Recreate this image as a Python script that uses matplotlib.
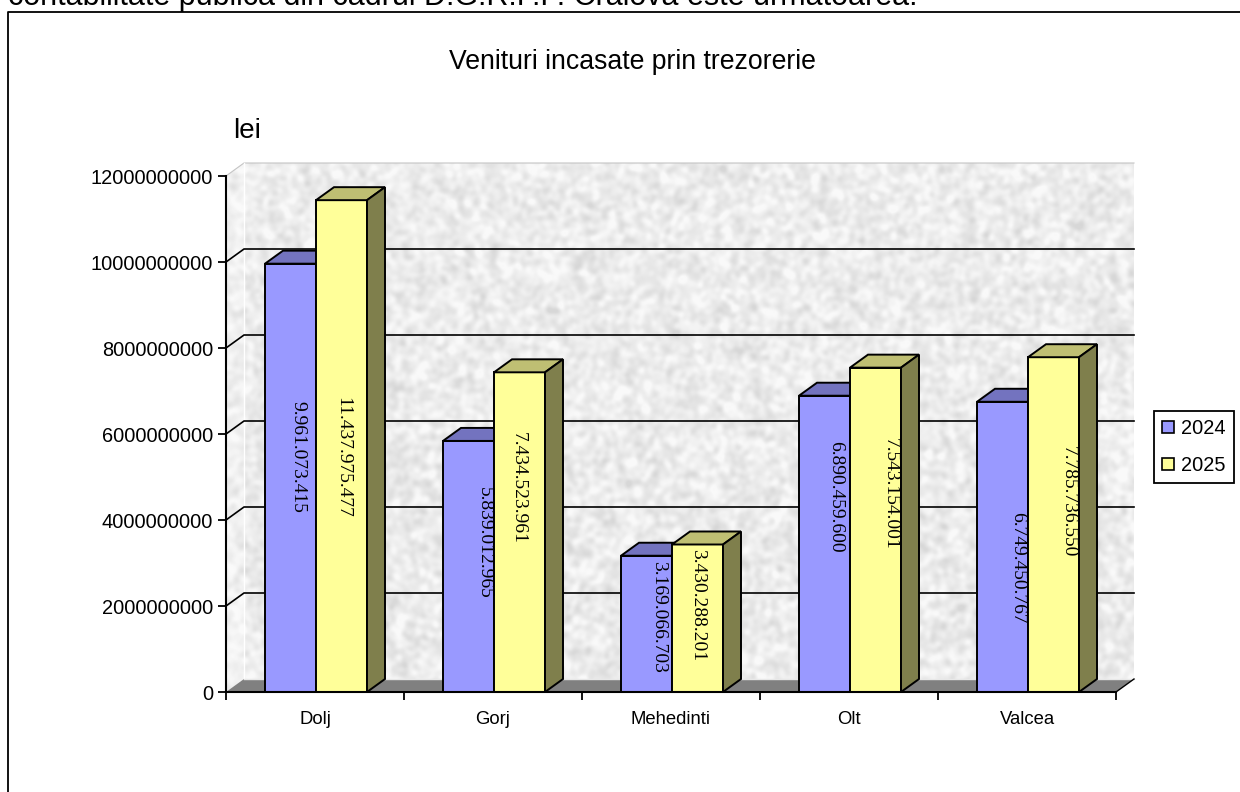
#!/usr/bin/env python3
"""Venituri incasate prin trezorerie - 3D style column chart."""

import matplotlib

matplotlib.use("Agg")
import matplotlib.pyplot as plt
import numpy as np
from matplotlib.lines import Line2D
from matplotlib.patches import Patch, Polygon

plt.rcParams["font.family"] = ["Liberation Sans", "DejaVu Sans"]

categories = ["Dolj", "Gorj", "Mehedinti", "Olt", "Valcea"]
values_2024 = [9961073415, 5839012965, 3169066703, 6890459600, 6749450767]
values_2025 = [11437975477, 7434523961, 3430288201, 7543154001, 7785736550]
labels_2024 = ["9.961.073.415", "5.839.012.965", "3.169.066.703", "6.890.459.600", "6.749.450.767"]
labels_2025 = ["11.437.975.477", "7.434.523.961", "3.430.288.201", "7.543.154.001", "7.785.736.550"]
y_ticks = [0, 2000000000, 4000000000, 6000000000, 8000000000, 10000000000, 12000000000]

# label offsets from the bar centre in pixels, they sit oddly in the original
shift_2024 = [(7.5, 21), (15.5, 23.5), (12.5, 7), (11.5, 47), (15.5, -21)]
shift_2025 = [(1.5, -11), (-1.5, 44), (0.5, 13), (14.5, 36), (14.5, 22.5)]

W, H = 1240, 792
Y_MAX = 12000000000
BAR_W = 51 / 178
DX = 18 / 178
DY = 13 / 516 * Y_MAX
EDGE = 1.4


def wall_texture(ny, nx):
    # blotchy paper look: a hash pattern blurred in fourier space, no data in here
    yy, xx = np.mgrid[0:ny, 0:nx]
    grain = np.sin(xx * 12.9898 + yy * 78.233) * 43758.5453
    grain = grain - np.floor(grain)
    fy = np.fft.fftfreq(ny)[:, None]
    fx = np.fft.rfftfreq(nx)[None, :]
    spec = np.fft.rfft2(grain - grain.mean())
    tex = np.fft.irfft2(spec * np.exp(-2 * (np.pi * 2.6) ** 2 * (fx ** 2 + fy ** 2)), s=(ny, nx))
    tex = tex / tex.std()
    return np.clip(0.925 + 0.026 * tex, 0.84, 0.975)


def draw_bar(ax, left, value, front, top, side):
    right = left + BAR_W
    ax.bar(left, value, BAR_W, align="edge", color=front, edgecolor="black", linewidth=EDGE, zorder=5, clip_on=False)
    ax.add_patch(Polygon(
        [(left, value), (right, value), (right + DX, value + DY), (left + DX, value + DY)],
        facecolor=top, edgecolor="black", linewidth=EDGE, zorder=5, clip_on=False,
    ))
    ax.add_patch(Polygon(
        [(right, 0), (right + DX, DY), (right + DX, value + DY), (right, value)],
        facecolor=side, edgecolor="black", linewidth=EDGE, zorder=5, clip_on=False,
    ))


def main():
    fig = plt.figure(figsize=(W / 100, H / 100), dpi=100, facecolor="white")
    ax = fig.add_axes([226 / W, 1 - 692 / H, 890 / W, 516 / H])
    ax.patch.set_visible(False)

    n = len(categories)
    x_right = n + DX

    # back and left wall
    outline = Polygon(
        [(0, 0), (DX, DY), (x_right, DY), (x_right, Y_MAX + DY), (DX, Y_MAX + DY), (0, Y_MAX)],
        transform=ax.transData, facecolor="none", edgecolor="none",
    )
    ax.add_patch(outline)
    im = ax.imshow(
        wall_texture(530, 910), cmap="gray", vmin=0, vmax=1, aspect="auto", interpolation="bilinear",
        extent=(0, x_right, 0, Y_MAX + DY), zorder=1,
    )
    im.set_clip_box(fig.bbox)
    im.set_clip_path(outline)
    ax.add_patch(Polygon(
        [(0, 0), (DX, DY), (DX, Y_MAX + DY), (0, Y_MAX)],
        facecolor="white", edgecolor="none", alpha=0.25, zorder=1.5, clip_on=False,
    ))
    # pale edges of the walls
    ax.plot([0, DX, x_right], [Y_MAX, Y_MAX + DY, Y_MAX + DY], color="#c4c4c4", lw=0.8, zorder=2, clip_on=False)
    ax.plot([DX, DX], [DY, Y_MAX + DY], color="white", lw=1, zorder=2, clip_on=False)

    # floor
    ax.add_patch(Polygon(
        [(0, 0), (DX, DY), (x_right, DY), (n, 0)],
        facecolor="#808080", edgecolor="none", zorder=3, clip_on=False,
    ))
    ax.plot([DX, x_right], [DY, DY], color="#e8e8e8", lw=1, zorder=3, clip_on=False)
    ax.plot([n, x_right], [0, DY], color="black", lw=1.0, zorder=3, clip_on=False)

    # grid lines run over the left wall then along the back wall
    for tick in y_ticks[1:-1]:
        ax.plot([0, DX, x_right], [tick, tick + DY, tick + DY], color="black", lw=1.2, zorder=3, clip_on=False)

    for i in range(n):
        draw_bar(ax, i + 39 / 178, values_2024[i], "#9999ff", "#7373bf", "#4c4c7f")
        draw_bar(ax, i + 39 / 178 + BAR_W, values_2025[i], "#ffff99", "#bfbf73", "#7f7f4c")
        ax.annotate(
            labels_2024[i], xy=(i + 39 / 178 + BAR_W / 2, values_2024[i] / 2), xytext=shift_2024[i],
            textcoords="offset pixels", rotation=-90, ha="center", va="center",
            family="Liberation Serif", fontsize=14, color="black", zorder=6,
        )
        ax.annotate(
            labels_2025[i], xy=(i + 39 / 178 + 1.5 * BAR_W, values_2025[i] / 2), xytext=shift_2025[i],
            textcoords="offset pixels", rotation=-90, ha="center", va="center",
            family="Liberation Serif", fontsize=14, color="black", zorder=6,
        )

    ax.set_xlim(0, n)
    ax.set_ylim(0, Y_MAX)
    ax.set_yticks(y_ticks)
    ax.set_yticklabels([str(t) for t in y_ticks], fontsize=14.4)
    ax.set_xticks(range(n + 1))
    ax.set_xticklabels([])
    ax.set_xticks([i + 0.5 for i in range(n)], minor=True)
    ax.set_xticklabels(categories, minor=True, fontsize=13.3)
    ax.tick_params(axis="y", length=5.8, width=1.3, pad=3.5, color="black")
    ax.tick_params(axis="x", which="major", length=5.8, width=1.3)
    ax.tick_params(axis="x", which="minor", length=0, pad=13.5)
    for name in ("top", "right"):
        ax.spines[name].set_visible(False)
    for name in ("left", "bottom"):
        ax.spines[name].set_linewidth(1.5)
        ax.spines[name].set_zorder(7)

    fig.text(632.5 / W, 1 - 62 / H, "Venituri incasate prin trezorerie", ha="center", va="center", fontsize=19.2)
    fig.text(233 / W, 1 - 138 / H, "lei", ha="left", va="baseline", fontsize=20)

    # line of body text cut off above the chart frame
    fig.text(
        8 / W, 1 - 5.5 / H, "contabilitate publica din cadrul D.G.R.F.P. Craiova este urmatoarea:",
        ha="left", va="baseline", fontsize=22,
    )
    fig.add_artist(Line2D([8 / W, 8 / W, 1], [0, 1 - 12 / H, 1 - 12 / H], color="black", lw=1.3))

    handles = [
        Patch(facecolor="#9999ff", edgecolor="black", linewidth=1.2, label="2024"),
        Patch(facecolor="#ffff99", edgecolor="black", linewidth=1.2, label="2025"),
    ]
    leg = fig.legend(
        handles=handles, loc="center", bbox_to_anchor=(1194 / W, 1 - 447 / H), fontsize=14.4,
        frameon=True, fancybox=False, framealpha=1, edgecolor="black", handlelength=0.6, handleheight=0.6,
        handletextpad=0.35, borderpad=0.4, labelspacing=0.9, borderaxespad=0,
    )
    leg.get_frame().set_linewidth(1.3)

    fig.savefig("out.png", dpi=100)
    plt.close(fig)


if __name__ == "__main__":
    main()
